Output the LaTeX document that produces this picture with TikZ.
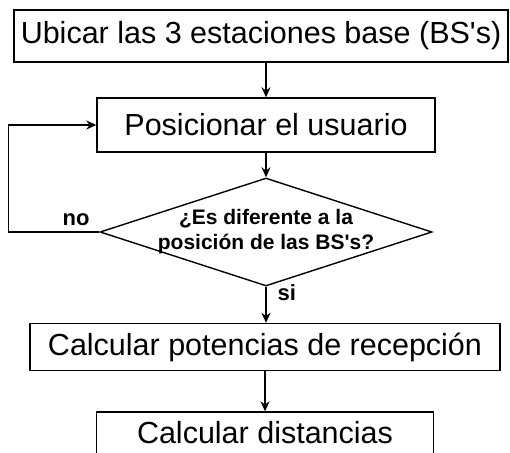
\documentclass[tikz,border=0pt]{standalone}
\usepackage{fontspec}
\newfontfamily\arial{Liberation Sans}
\usetikzlibrary{arrows.meta,shapes.geometric}

\begin{document}
\begin{tikzpicture}[x=1pt, y=-1pt, >={Stealth[length=10pt,width=9pt]},
  font=\arial\fontsize{30.5}{34}\selectfont, line width=1.4pt,
  b/.style={draw, inner sep=0pt},
  dec/.style={draw, diamond, inner sep=0pt, minimum width=332pt, minimum height=108pt},
  dtxt/.style={font=\arial\bfseries\fontsize{21}{25}\selectfont, align=center, inner sep=0pt},
  lbl/.style={font=\arial\bfseries\fontsize{22}{26}\selectfont, inner sep=0pt}]
  \useasboundingbox (0,0) rectangle (510,452);
  \node[b, minimum width=494pt, minimum height=52pt] (ubi) at (261,36)  {Ubicar las 3 estaciones base (BS's)};
  \node[b, minimum width=338pt, minimum height=54pt] (pos) at (266,125) {Posicionar el usuario};
  \node[dec, label={[dtxt]center:{¿Es diferente a la\\posición de las BS's?}}] (dif) at (266,232) {};
  \node[b, minimum width=470pt, minimum height=47pt] (pot) at (265,347) {Calcular potencias de recepción};
  \node[b, minimum width=337pt, minimum height=42pt] (dis) at (265,433) {Calcular distancias};
  \draw[->] (pos.north |- ubi.south) -- (pos.north);
  \draw[->] (pos) -- (dif);
  \draw[->] (dif.south) -- (dif.south |- pot.north)
    node[pos=0, lbl, anchor=base west, xshift=11pt, yshift=-14pt] {si};
  \draw[->] (pot.south) -- (pot.south |- dis.north);
  % vuelta al usuario
  \draw[->] (dif.west) -- ++(-91,0)
    node[pos=0, lbl, anchor=base east, xshift=-9pt, yshift=7pt] {no} |- (pos);
\end{tikzpicture}
\end{document}
